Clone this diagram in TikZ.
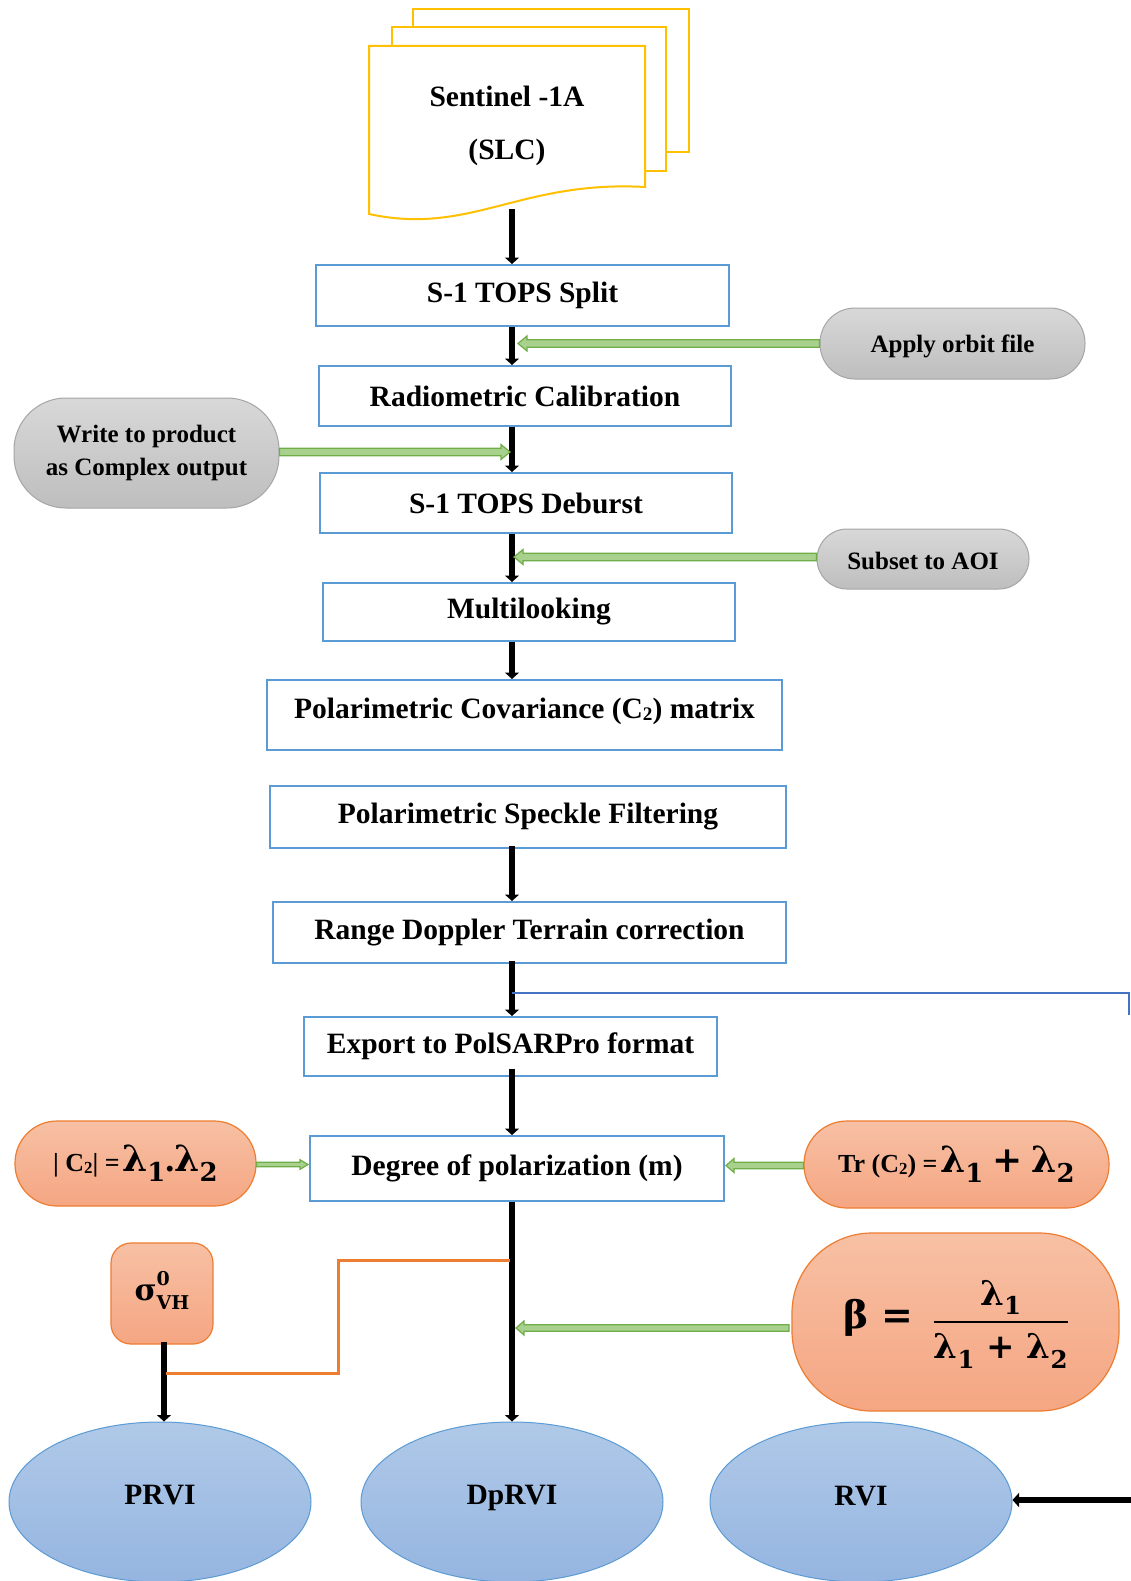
\documentclass[tikz,border=0pt]{standalone}
\usepackage{fontspec}
\setmainfont{Liberation Serif}
\newfontfamily\mf{DejaVu Serif}
\usepackage{graphicx}
\usetikzlibrary{calc,arrows.meta,shapes.geometric}

\definecolor{boxblue}{HTML}{5B9BD5}
\definecolor{docyellow}{HTML}{FFC000}
\definecolor{gfill}{HTML}{A9D18E}
\definecolor{gline}{HTML}{70AD47}
\definecolor{orangeline}{HTML}{ED7D31}
\definecolor{otop}{HTML}{F7C0A4}
\definecolor{obot}{HTML}{F5A682}
\definecolor{graytop}{HTML}{D8D8D8}
\definecolor{graybot}{HTML}{BEBEBE}
\definecolor{grayline}{HTML}{A5A5A5}
\definecolor{etop}{HTML}{B0C9E8}
\definecolor{ebot}{HTML}{95B5E0}
\definecolor{linkblue}{HTML}{4472C4}

\newcommand\fs[1]{\fontsize{#1}{#1}\selectfont}
\newcommand\lam[1]{{\mf\bfseries λ}\raisebox{-0.28em}{\scalebox{0.72}{\mf\bfseries #1}}}
\newcommand\subtwo{\raisebox{-0.08em}{\scalebox{0.65}{2}}}
\newcommand\garrow[5]{%
  \coordinate (gaH) at ($(#2)!#5!(#1)$);
  \filldraw[fill=gfill, draw=gline, line width=1.2pt, line join=miter]
   ($(#1)!#3!90:(#2)$) -- ($(gaH)!#3!90:(#2)$) -- ($(gaH)!#4!90:(#2)$) -- (#2)
   -- ($(gaH)!#4!-90:(#2)$) -- ($(gaH)!#3!-90:(#2)$) -- ($(#1)!#3!-90:(#2)$) -- cycle;}

\begin{document}
\begin{tikzpicture}[x=1pt,y=-1pt,
  box/.style={draw=boxblue, line width=2pt, fill=white, inner sep=0pt, font=\fs{29.5}\bfseries},
  pill/.style={draw=grayline, line width=1pt, top color=graytop, bottom color=graybot, font=\fontsize{25}{33}\selectfont\bfseries, align=center, inner sep=0pt},
  opill/.style={draw=orangeline, line width=1.2pt, top color=otop, bottom color=obot, inner sep=0pt},
  vi/.style={ellipse, draw=boxblue, line width=1pt, top color=etop, bottom color=ebot, font=\fs{29.5}\bfseries, inner sep=0pt, minimum width=302pt, minimum height=160pt},
  flow/.style={line width=5.2pt, -{Triangle[length=6.5pt,width=14pt]}},
  docsheet/.style={fill=white, draw=docyellow, line width=2pt}
]
\fill[white] (0,0) rectangle (1130,1581);
\useasboundingbox (0,0) rectangle (1130,1581);

% document stack
\filldraw[docsheet] (413,9) rectangle (689,152);
\filldraw[docsheet] (392,27) rectangle (666,171);
\filldraw[docsheet] (369,46) -- (645,46) -- (645,187) .. controls (520,180) and (470,236) .. (369,214) -- cycle;
\node[font=\fontsize{29.5}{53}\selectfont\bfseries, align=center] (doc) at (507,126) {Sentinel -1A\\(SLC)};
\coordinate (docb) at (512,209);
\coordinate (mx) at (512,0);

% process boxes
\node[box, minimum width=413pt, minimum height=61pt] (split) at (522.5,295.5) {S-1 TOPS Split};
\node[box, minimum width=412pt, minimum height=60pt] (radio) at (525,396) {Radiometric Calibration};
\node[box, minimum width=412pt, minimum height=60pt] (deburst) at (526,503) {S-1 TOPS Deburst};
\node[box, minimum width=412pt, minimum height=58pt] (multi) at (529,612) {Multilooking};
\node[box, minimum width=515pt, minimum height=70pt] (cov) at (524.5,715) {\raisebox{-3.5pt}[0pt][0pt]{Polarimetric Covariance (C\subtwo) matrix}};
\node[box, minimum width=516pt, minimum height=62pt] (speckle) at (528,817) {Polarimetric Speckle Filtering};
\node[box, minimum width=513pt, minimum height=61pt] (range) at (529.5,932.5) {Range Doppler Terrain correction};
\node[box, minimum width=413pt, minimum height=59pt] (export) at (510.5,1046.5) {Export to PolSARPro format};
\node[box, minimum width=414pt, minimum height=65pt] (degree) at (517,1168.5) {Degree of polarization (m)};

% side pills
\node[pill, minimum width=265pt, minimum height=71pt, rounded corners=35pt] (orbit) at (952.5,343.5) {\raisebox{-9pt}[0pt][0pt]{Apply orbit file}};
\node[pill, minimum width=265pt, minimum height=110pt, rounded corners=52pt] (write) at (146.5,453) {Write to product\\as Complex output};
\node[pill, minimum width=212pt, minimum height=60pt, rounded corners=30pt] (subset) at (923,559) {\raisebox{-10.5pt}[0pt][0pt]{Subset to AOI}};

\node[opill, minimum width=241pt, minimum height=85pt, rounded corners=42pt] (c2) at (135.5,1163.5)
  {\bfseries{\fs{26}| C\subtwo| =} {\fs{36}\lam{1}.\lam{2}}};
\node[opill, minimum width=305pt, minimum height=87pt, rounded corners=43pt] (tr) at (956.5,1164.5)
  {\bfseries{\fs{26}Tr (C\subtwo) =} {\fs{36}\lam{1} {\mf\bfseries +} \lam{2}}};
\node[opill, minimum width=102pt, minimum height=101pt, rounded corners=20pt] (sigma) at (162,1293.5)
  {\raisebox{15pt}{\mf\bfseries\fs{30}σ\rlap{\raisebox{0.5em}{\fs{19}0}}\raisebox{-0.3em}{\fs{19}VH}}};
\node[opill, minimum width=327pt, minimum height=178pt, rounded corners=80pt] (beta) at (955.5,1322)
  {\mf\bfseries\fs{34}{\fs{38}β =}\hspace{20pt}\setlength{\arrayrulewidth}{2.5pt}\renewcommand{\arraystretch}{1.5}%
   \begin{tabular}{@{}c@{}}\lam{1}\\\hline \lam{1} + \lam{2}\end{tabular}};

% outputs
\node[vi] (prvi) at (160,1502) {\raisebox{14pt}{PRVI}};
\node[vi] (dprvi) at (512,1502) {\raisebox{14pt}{DpRVI}};
\node[vi] (rvi) at (861,1502) {\raisebox{12pt}{RVI}};

% main flow
\draw[flow] (docb) -- (docb |- split.north);
\draw[flow] (split.south -| mx) -- (radio.north -| mx);
\draw[flow] (radio.south -| mx) -- (deburst.north -| mx);
\draw[flow] (deburst.south -| mx) -- (multi.north -| mx);
\draw[flow] (multi.south -| mx) -- (cov.north -| mx);
\draw[flow] ([yshift=3pt]speckle.south -| mx) -- (range.north -| mx);
\draw[flow] ([yshift=3pt]range.south -| mx) -- (export.north -| mx);
\draw[flow] ([yshift=8pt]export.south -| mx) -- (degree.north -| mx);
\draw[flow] (degree.south -| mx) -- (dprvi.north);
\coordinate (px) at (164,0);
\draw[flow] ([yshift=3pt]sigma.south -| px) -- (prvi.north -| px);

% orange link
\coordinate (o1) at (166,1373);
\coordinate (o2) at (510,1260);
\draw[orangeline, line width=3pt] (o1) -| ($(o1)!0.5!(o2)$) |- (o2);

% blue link and RVI input
\coordinate (bl) at (512,993);
\coordinate (br) at (1129,1015);
\draw[linkblue, line width=2pt] (bl) -| (br);
\coordinate (redge) at (1135,1500);
\draw[flow] (redge) -- (rvi.east |- redge);

% green inputs
\coordinate (t1) at (518,343.5);
\garrow{orbit.west}{t1}{3.8pt}{7.5pt}{9pt}
\coordinate (t2) at (510,452);
\garrow{write.east |- t2}{t2}{3.8pt}{7.5pt}{9pt}
\coordinate (t3) at (514,557);
\garrow{subset.west |- t3}{t3}{3.8pt}{7.5pt}{9pt}
\coordinate (t4) at (308,1164.5);
\garrow{c2.east |- t4}{t4}{2.2pt}{4.8pt}{8pt}
\coordinate (t5) at (726,1165.5);
\garrow{tr.west |- t5}{t5}{3.2pt}{7pt}{8pt}
\coordinate (b1) at (789,1328);
\coordinate (t6) at (516,1328);
\garrow{b1}{t6}{3.2pt}{7pt}{8pt}
\end{tikzpicture}
\end{document}
